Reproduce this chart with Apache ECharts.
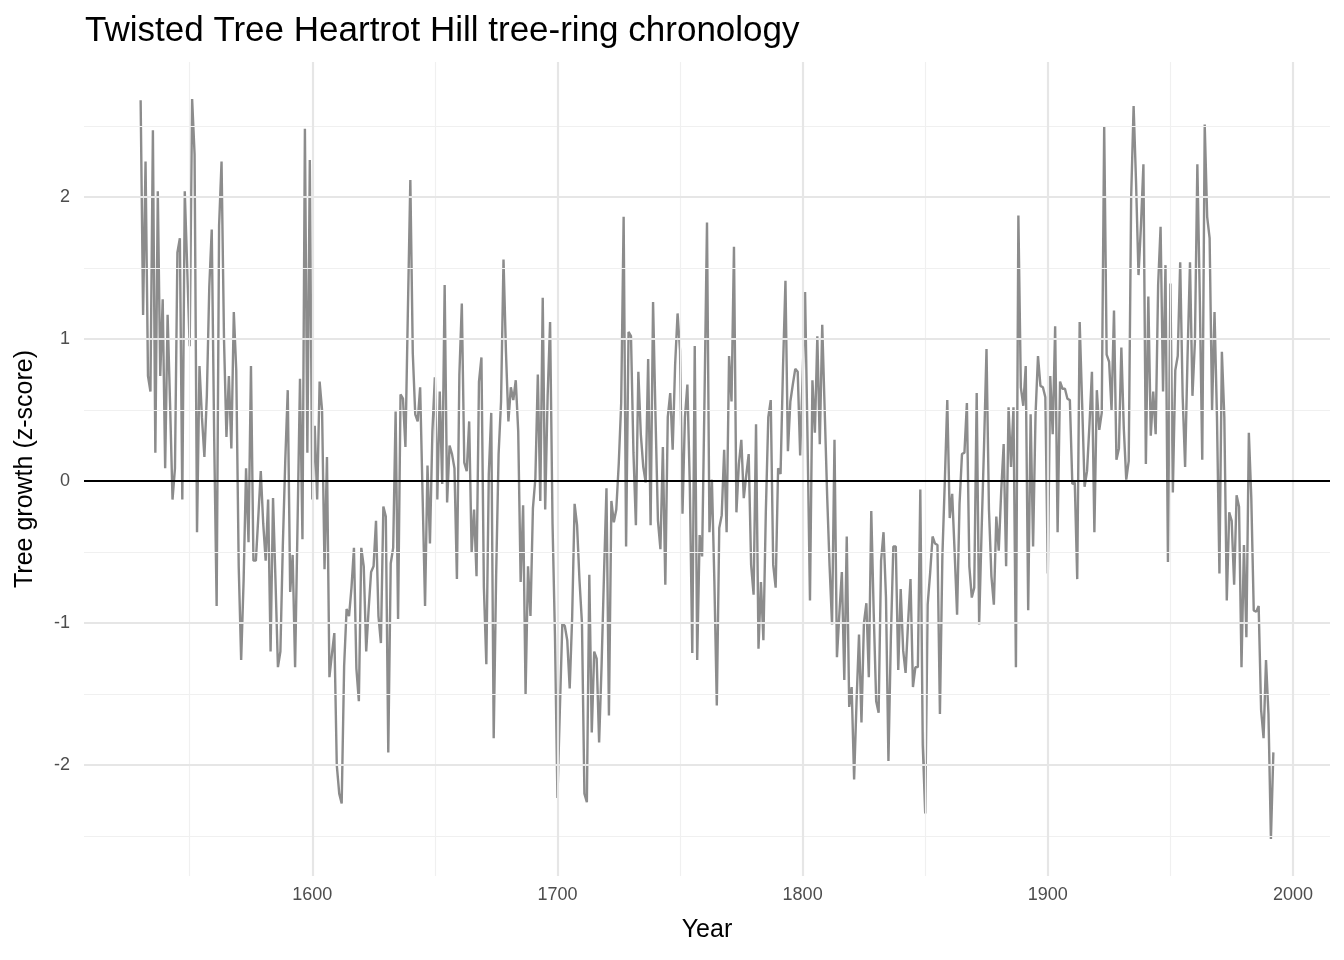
<!DOCTYPE html>
<html>
<head>
<meta charset="utf-8">
<title>Twisted Tree Heartrot Hill tree-ring chronology</title>
<script src="https://cdn.jsdelivr.net/npm/echarts@6.0.0/dist/echarts.min.js"></script>
<style>
    html, body { margin: 0; padding: 0; background: #fff; }
    #chart { width: 1344px; height: 960px; }
</style>
</head>
<body>
<div id="chart"></div>
<script>
    // ring-width index (z-score), one value per year, starting 1530
    var startYear = 1530;
    var z1530s = [2.68, 1.17, 2.25, 0.74, 0.63, 2.47, 0.2, 2.04, 0.74, 1.28,
                  0.09, 1.17, 0.55, -0.13, 0.09, 1.61, 1.71, -0.13, 2.04, 1.5,
                  0.95, 2.69, 2.3, -0.36, 0.81, 0.45, 0.17, 0.6, 1.37, 1.77,
                  0.3, -0.88, 1.8, 2.25, 1.0, 0.31, 0.74, 0.23, 1.19, 0.78,
                  -0.6, -1.26, -0.7, 0.09, -0.43, 0.81, -0.56, -0.56, -0.25, 0.07,
                  -0.3, -0.56, -0.13, -1.2, -0.12, -0.7, -1.31, -1.2, -0.45, 0.15,
                  0.64, -0.78, -0.52, -1.31, -0.3, 0.72, -0.41, 2.48, 0.2, 2.26];
    var z1600s = [-0.13, 0.39, -0.13, 0.7, 0.5, -0.62, 0.17, -1.38, -1.22, -1.07,
                  -2.0, -2.2, -2.27, -1.3, -0.9, -0.95, -0.75, -0.47, -1.32, -1.55,
                  -0.47, -0.6, -1.2, -0.9, -0.64, -0.6, -0.28, -0.95, -1.14, -0.18,
                  -0.25, -1.91, -0.58, -0.47, 0.49, -0.97, 0.61, 0.58, 0.24, 1.2,
                  2.12, 0.9, 0.47, 0.42, 0.66, -0.1, -0.88, 0.11, -0.44, 0.35,
                  0.73, -0.13, 0.63, -0.02, 1.38, -0.15, 0.25, 0.19, 0.09, -0.69,
                  0.75, 1.25, 0.13, 0.07, 0.42, -0.5, -0.2, -0.67, 0.7, 0.87,
                  -0.75, -1.29, 0.05, 0.48, -1.81, -0.66, 0.19, 0.56, 1.56, 0.91,
                  0.42, 0.66, 0.57, 0.71, 0.35, -0.71, -0.17, -1.5, -0.6, -0.95,
                  -0.19, 0.02, 0.75, -0.14, 1.29, -0.2, 0.6, 1.12, -0.3, -1.1];
    var z1700s = [-2.23, -1.6, -1.0, -1.02, -1.12, -1.46, -0.96, -0.16, -0.31, -0.7,
                  -1.0, -2.2, -2.26, -0.66, -1.77, -1.2, -1.25, -1.84, -1.3, -0.65,
                  -0.05, -1.65, -0.14, -0.29, -0.2, 0.12, 0.55, 1.86, -0.46, 1.05,
                  1.02, 0.2, -0.31, 0.77, 0.33, 0.1, -0.01, 0.86, -0.31, 1.26,
                  0.45, -0.28, -0.48, 0.24, -0.73, 0.45, 0.62, 0.22, 0.82, 1.18,
                  0.92, -0.23, 0.45, 0.68, -0.04, -1.21, 0.95, -1.26, -0.38, -0.53,
                  0.6, 1.82, -0.36, 0.01, -0.7, -1.58, -0.33, -0.24, 0.22, -0.36,
                  0.88, 0.56, 1.65, -0.22, 0.12, 0.29, -0.12, 0.04, 0.19, -0.59,
                  -0.8, 0.4, -1.18, -0.71, -1.12, -0.21, 0.45, 0.57, -0.59, -0.75,
                  0.09, 0.05, 0.8, 1.41, 0.21, 0.56, 0.68, 0.79, 0.77, 0.18];
    var z1800s = [0.73, 1.33, 0.3, -0.84, 0.71, 0.34, 1.02, 0.26, 1.1, 0.5,
                  -0.1, -0.6, -1.01, 0.29, -1.24, -0.93, -0.64, -1.4, -0.39, -1.59,
                  -1.45, -2.1, -1.55, -1.08, -1.7, -1.0, -0.86, -1.38, -0.21, -0.93,
                  -1.55, -1.63, -0.56, -0.36, -0.82, -1.97, -1.1, -0.46, -0.46, -1.33,
                  -0.76, -1.19, -1.35, -1.0, -0.69, -1.45, -1.31, -1.31, -0.06, -1.86,
                  -2.34, -0.87, -0.65, -0.39, -0.44, -0.45, -1.64, -0.53, 0.0, 0.57,
                  -0.26, -0.09, -0.5, -0.94, -0.16, 0.19, 0.2, 0.55, -0.6, -0.82,
                  -0.75, 0.62, -1.01, -0.35, 0.25, 0.93, -0.2, -0.67, -0.87, -0.25,
                  -0.49, -0.07, 0.26, -0.6, 0.52, 0.1, 0.52, -1.31, 1.87, 0.66,
                  0.53, 0.81, -0.91, 0.47, -0.46, 0.47, 0.88, 0.67, 0.66, 0.59];
    var z1900s = [-0.65, 0.74, 0.33, 1.09, -0.36, 0.7, 0.65, 0.65, 0.58, 0.57,
                  -0.02, -0.01, -0.69, 1.12, 0.55, -0.04, 0.07, 0.4, 0.77, -0.36,
                  0.64, 0.36, 0.48, 2.5, 0.89, 0.84, 0.5, 1.2, 0.15, 0.23,
                  0.94, 0.37, 0.01, 0.14, 2.0, 2.64, 2.1, 1.45, 1.8, 2.23,
                  0.12, 1.3, 0.32, 0.63, 0.33, 1.38, 1.79, 0.63, 1.52, -0.57,
                  1.39, -0.08, 0.78, 0.88, 1.54, 0.6, 0.1, 0.88, 1.54, 0.6,
                  0.98, 2.23, 1.28, 0.15, 2.51, 1.86, 1.71, 0.5, 1.19, 0.45,
                  -0.65, 0.91, 0.45, -0.84, -0.22, -0.28, -0.73, -0.1, -0.18, -1.31,
                  -0.45, -1.1, 0.34, -0.12, -0.91, -0.92, -0.88, -1.61, -1.81, -1.26,
                  -1.64, -2.52, -1.91];

    var xTicks = [1600, 1700, 1800, 1900, 2000];
    var xMinor = [1550, 1650, 1750, 1850, 1950];
    var yTicks = [-2, -1, 0, 1, 2];
    var yMinor = [-2.5, -1.5, -0.5, 0.5, 1.5, 2.5];

    var growth = z1530s.concat(z1600s, z1700s, z1800s, z1900s);
    var points = [];
    for (var i = 0; i < growth.length; i++) {
        points.push([startYear + i, growth[i]]);
    }

    var font = '"Liberation Sans", Arial, Helvetica, sans-serif';
    var gridLines = [];
    xMinor.forEach(function (v) { gridLines.push({xAxis: v, lineStyle: {color: '#f0f0f0', width: 1.2, type: 'solid'}}); });
    yMinor.forEach(function (v) { gridLines.push({yAxis: v, lineStyle: {color: '#f0f0f0', width: 1.2, type: 'solid'}}); });
    xTicks.forEach(function (v) { gridLines.push({xAxis: v, lineStyle: {color: '#e6e6e6', width: 2.2, type: 'solid'}}); });
    yTicks.forEach(function (v) { gridLines.push({yAxis: v, lineStyle: {color: '#e6e6e6', width: 2.2, type: 'solid'}}); });
    gridLines.push({yAxis: 0, lineStyle: {color: '#000000', width: 2.2, type: 'solid'}});

    var myChart = echarts.init(document.getElementById('chart'), null, {renderer: 'canvas'});
    var option = {
        backgroundColor: '#ffffff',
        animation: false,
        title: {
            text: 'Twisted Tree Heartrot Hill tree-ring chronology',
            left: 80,
            top: 9,
            textStyle: {fontFamily: font, fontSize: 35, fontWeight: 'normal', color: '#000'}
        },
        grid: {left: 84, right: 14, top: 62, bottom: 84, containLabel: false},
        xAxis: {
            type: 'value',
            min: 1506.9,
            max: 2015.1,
            name: 'Year',
            nameLocation: 'middle',
            nameGap: 42,
            nameTextStyle: {fontFamily: font, fontSize: 25, color: '#000'},
            axisLine: {show: false},
            axisTick: {show: false, customValues: xTicks},
            splitLine: {show: false},
            axisLabel: {
                customValues: xTicks, margin: 10, fontFamily: font, fontSize: 18, color: '#4d4d4d',
                formatter: function (v) { return String(v); }
            }
        },
        yAxis: {
            type: 'value',
            min: -2.78,
            max: 2.95,
            name: 'Tree growth (z-score)',
            nameLocation: 'middle',
            nameRotate: 90,
            nameGap: 46,
            nameTextStyle: {fontFamily: font, fontSize: 25, color: '#000'},
            axisLine: {show: false},
            axisTick: {show: false, customValues: yTicks},
            splitLine: {show: false},
            axisLabel: {
                customValues: yTicks, margin: 14, fontFamily: font, fontSize: 18, color: '#4d4d4d',
                formatter: function (v) { return String(v); }
            }
        },
        series: [
            {
                name: 'grid',
                type: 'line',
                z: 1,
                silent: true,
                symbol: 'none',
                data: [points[0]],
                lineStyle: {width: 0},
                markLine: {
                    silent: true,
                    symbol: ['none', 'none'],
                    label: {show: false},
                    emphasis: {disabled: true},
                    animation: false,
                    data: gridLines
                }
            },
            {
                name: 'chronology',
                type: 'line',
                z: 3,
                symbol: 'none',
                data: points,
                lineStyle: {color: '#8c8c8c', width: 2.4},
                itemStyle: {color: '#8c8c8c'}
            }
        ]
    };
    myChart.setOption(option);
</script>
</body>
</html>
